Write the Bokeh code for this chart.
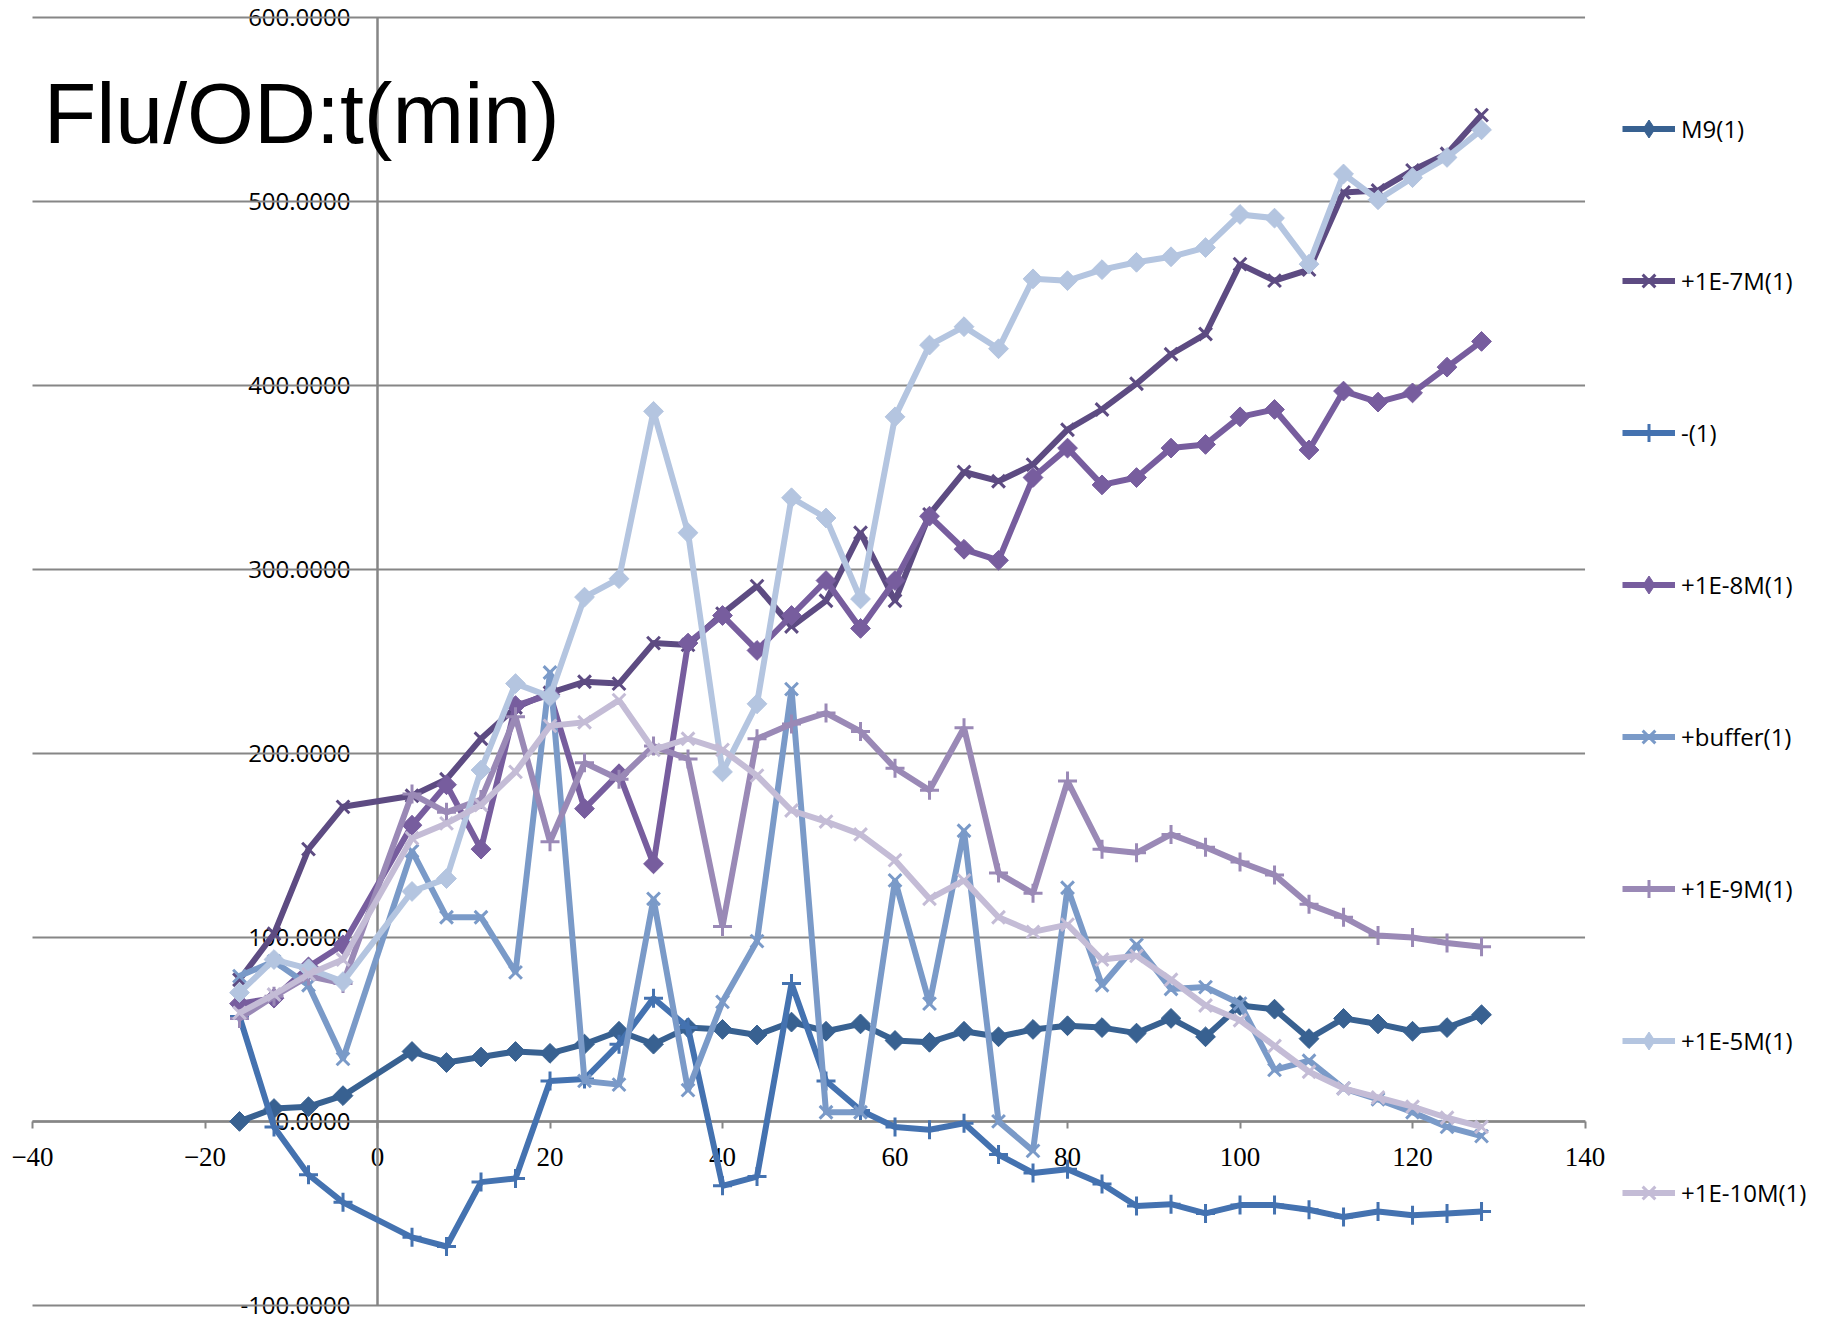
import math
from bokeh.plotting import figure
from bokeh.models import (Range1d, LinearAxis, FixedTicker, PrintfTickFormatter,
                          CustomJSTickFormatter, Legend, LegendItem, Label)
from bokeh.embed import file_html
from bokeh.resources import INLINE

# ---- data ----
t_min = [-16, -12, -8, -4, 4, 8, 12, 16, 20, 24, 28, 32, 36, 40, 44, 48, 52, 56, 60,
         64, 68, 72, 76, 80, 84, 88, 92, 96, 100, 104, 108, 112, 116, 120, 124, 128]

m9 = [0, 7, 8, 14, 38, 32, 35, 38, 37, 42, 49, 42, 51, 50, 47, 54, 49, 53, 44,
      43, 49, 46, 50, 52, 51, 48, 56, 46, 63, 61, 45, 56, 53, 49, 51, 58]

e7 = [77, 102, 148, 171, 177, 186, 208, 225, 233, 239, 238, 260, 259, 276, 291, 269, 283, 320, 283,
      330, 353, 348, 357, 376, 387, 401, 417, 428, 466, 457, 463, 505, 506, 517, 526, 547]

minus = [57, -3, -29, -44, -63, -68, -33, -31, 22, 23, 42, 67, 51, -35, -30, 75, 22, 6, -3,
         -4.5, -1, -18, -28, -26, -34, -46, -45, -50, -45.5, -45.5, -48, -52, -49, -51, -50, -49]

e8 = [64, 67, 84, 96, 161, 183, 148, 226, 232, 170, 189, 140, 260, 275, 256, 275, 294, 268, 294,
      329, 311, 305, 350, 366, 346, 350, 366, 368, 383, 387, 365, 397, 391, 396, 410, 424]

buffer = [79, 87, 74, 34, 147, 111, 111, 81, 244, 22, 20, 121, 17, 65, 98, 235, 5, 5, 131,
          64, 158, 0, -16, 127, 74, 96, 72, 73, 64, 28, 33, 18, 12, 5, -3, -8]

e9 = [56, 68, 79, 75, 178, 168, 175, 220, 152, 195, 186, 204, 197, 106, 208, 216, 222, 212, 192,
      180, 214, 135, 124, 185, 148, 146, 156, 149, 141, 134, 118, 111, 101, 100, 97, 95]

e5 = [70, 88, 83, 76, 125, 132, 191, 238, 231, 285, 295, 386, 320, 190, 227, 339, 328, 284, 383,
      422, 432, 420, 458, 457, 463, 467, 470, 475, 493, 491, 466, 515, 501, 513, 524, 539]

e10 = [59, 69, 80, 88, 154, 162, 172, 190, 215, 217, 229, 202, 208, 202, 188, 169, 163, 156, 142,
       121, 131, 111, 103, 107, 88, 90, 77, 63, 55, 41, 27, 18, 13, 8, 2, -3]

series_names = ["M9(1)", "+1E-7M(1)", "-(1)", "+1E-8M(1)", "+buffer(1)",
                "+1E-9M(1)", "+1E-5M(1)", "+1E-10M(1)"]
series_values = [m9, e7, minus, e8, buffer, e9, e5, e10]
series_colors = ["#386191", "#5D4B82", "#4472B0", "#775D9E",
                 "#7A9AC8", "#9A89B6", "#B4C5E0", "#C4BCD6"]
series_markers = ["diamond", "x", "cross", "diamond", "x", "cross", "diamond", "x"]

y_ticks = [-100, 0, 100, 200, 300, 400, 500, 600]
x_ticks = [-40, -20, 0, 20, 40, 60, 80, 100, 120, 140]
title_text = "Flu/OD:t(min)"

AXIS_COLOR = "#868686"

# The frame is made larger than the plotting area so that the end labels and the
# legend (which sit outside the -40..140 / -100..600 area) are not clipped.
p = figure(frame_width=1820, frame_height=1308,
           x_range=Range1d(-43.71, 167.30), y_range=Range1d(-105.5, 605.5),
           x_axis_type=None, y_axis_type=None,
           toolbar_location=None, output_backend="svg",
           min_border_left=0, min_border_right=0,
           min_border_top=7, min_border_bottom=5,
           outline_line_color=None,
           background_fill_color="white", border_fill_color="white")

# horizontal gridlines spanning exactly the x-axis extent
n = len(y_ticks)
p.segment(x0=[x_ticks[0]] * n, x1=[x_ticks[-1]] * n, y0=y_ticks, y1=y_ticks,
          line_color=AXIS_COLOR, line_width=2)

yaxis = LinearAxis(fixed_location=0, bounds=(y_ticks[0], y_ticks[-1]),
                   ticker=FixedTicker(ticks=y_ticks),
                   formatter=PrintfTickFormatter(format="%.4f"),
                   axis_line_color=AXIS_COLOR, axis_line_width=2.5,
                   major_tick_out=0, major_tick_in=0,
                   minor_tick_out=0, minor_tick_in=0,
                   major_label_text_font="Open Sans",
                   major_label_text_font_size="24px",
                   major_label_text_color="#000000",
                   major_label_standoff=27, level="underlay")
p.add_layout(yaxis, "left")

xaxis = LinearAxis(fixed_location=0, bounds=(x_ticks[0], x_ticks[-1]),
                   ticker=FixedTicker(ticks=x_ticks),
                   formatter=CustomJSTickFormatter(
                       code="return tick < 0 ? '\u2212' + Math.abs(tick) : String(tick);"),
                   axis_line_color=AXIS_COLOR, axis_line_width=2.5,
                   major_tick_out=7, major_tick_in=0,
                   major_tick_line_color=AXIS_COLOR, major_tick_line_width=2,
                   minor_tick_out=0, minor_tick_in=0,
                   major_label_text_font="Liberation Serif",
                   major_label_text_font_size="27px",
                   major_label_text_color="#000000",
                   major_label_standoff=20, level="underlay")
p.add_layout(xaxis, "below")

items = []
for name, vals, col, mk in zip(series_names, series_values, series_colors, series_markers):
    p.line(t_min, vals, line_color=col, line_width=6)
    if mk == "diamond":
        p.scatter(t_min, vals, marker="square", angle=math.pi / 4, size=14,
                  fill_color=col, line_color=col, line_width=1)
    elif mk == "x":
        p.scatter(t_min, vals, marker="x", size=18, line_color=col, line_width=3)
    else:
        p.scatter(t_min, vals, marker="cross", size=19, line_color=col, line_width=3)
    # hidden twins of the series, used only to draw the legend swatches
    lg_line = p.line(t_min, vals, line_color=col, line_width=6, visible=False)
    if mk == "diamond":
        lg_mk = p.scatter(t_min, vals, marker="diamond", fill_color=col, line_color=col,
                          line_width=1, visible=False)
    else:
        lg_mk = p.scatter(t_min, vals, marker=mk, line_color=col, line_width=3,
                          visible=False)
    items.append(LegendItem(label=name, renderers=[lg_line, lg_mk]))

legend = Legend(items=items, location=(1622, 100), orientation="vertical",
                glyph_width=53, glyph_height=45, label_height=45,
                label_standoff=6, spacing=107, padding=0, margin=0,
                border_line_color=None, background_fill_alpha=0,
                label_text_font="Open Sans", label_text_font_size="24px",
                label_text_color="#000000", click_policy="none")
p.add_layout(legend)

title = Label(x=-38.7, y=548, x_units="data", y_units="data", text=title_text,
              text_font="Liberation Sans", text_font_size="86px",
              text_color="#000000", text_baseline="alphabetic", text_align="left")
p.add_layout(title)

open("out.html", "w").write(file_html(p, INLINE))
